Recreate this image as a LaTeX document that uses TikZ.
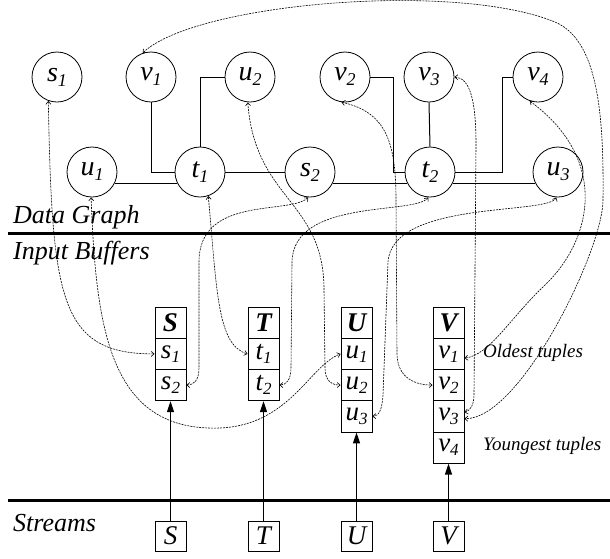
\documentclass[tikz,border=0pt]{standalone}
\usepackage{fontspec}
\setmainfont{Liberation Serif}
\usetikzlibrary{arrows.meta}
% subscripted labels for graph vertices and buffer cells
\newcommand\gsub[2]{#1\raisebox{-5pt}{\fontsize{18}{18}\selectfont #2}}
\newcommand\bsub[2]{#1\raisebox{-4pt}{\fontsize{17}{17}\selectfont #2}}
\begin{document}
\begin{tikzpicture}[x=1pt,y=-1pt,
  gnode/.style={circle,draw,line width=0.8pt,minimum size=50pt,inner sep=0pt,
    font=\fontsize{28}{30}\selectfont\itshape},
  cell/.style={rectangle,draw,line width=0.8pt,minimum width=31pt,minimum height=31.25pt,
    inner sep=0pt,font=\fontsize{27}{29}\selectfont\itshape},
  head/.style={cell,font=\fontsize{27}{29}\selectfont\bfseries\itshape},
  srcbox/.style={rectangle,draw,line width=0.8pt,minimum width=31pt,minimum height=30pt,
    inner sep=0pt,font=\fontsize{27}{29}\selectfont\itshape},
  edge/.style={line width=1pt},
  link/.style={line width=0.6pt,dash pattern=on 2pt off 1pt,<->,
    >={Straight Barb[length=3pt,width=5pt]}},
  feed/.style={line width=1.3pt,-{Triangle[length=11pt,width=7pt]}},
  rulebar/.style={line width=3pt},
  tag/.style={anchor=base west,inner sep=0pt,font=\fontsize{26}{28}\selectfont\itshape},
  note/.style={anchor=base west,inner sep=0pt,font=\fontsize{19}{21}\selectfont\itshape}]
\useasboundingbox (0,0) rectangle (610,558);

% ---- data graph vertices
\node[gnode] (s1) at (57,77)  {\gsub{s}{1}};
\node[gnode] (v1) at (151,77) {\gsub{v}{1}};
\node[gnode] (u2) at (250,77) {\gsub{u}{2}};
\node[gnode] (v2) at (345,77) {\gsub{v}{2}};
\node[gnode] (v3) at (429,77) {\gsub{v}{3}};
\node[gnode] (v4) at (538,77) {\gsub{v}{4}};
\node[gnode] (u1) at (92,172)  {\gsub{u}{1}};
\node[gnode] (t1) at (200,172) {\gsub{t}{1}};
\node[gnode] (s2) at (310,172) {\gsub{s}{2}};
\node[gnode] (t2) at (430,172) {\gsub{t}{2}};
\node[gnode] (u3) at (558,172) {\gsub{u}{3}};

% ---- data graph edges
\draw[edge] (u1.-26) -- (t1.206);
\draw[edge] (v1.south) |- (t1.west);
\draw[edge] (t1.north) |- (u2.west);
\draw[edge] (t1.east) -- (s2.west);
\draw[edge] (s2.-26) -- (t2.206);
\draw[edge] (t2.-26) -- (u3.206);
\draw[edge] (v2.east) -- ++(23,0) |- (t2.west);
\draw[edge] (v3.south) -- (t2.north);
\draw[edge] (t2.east) -- ++(47,0) |- (v4.west);

% ---- section rules and titles
\draw[rulebar] (8,233) -- (610,233);
\draw[rulebar] (8,500) -- (610,500);
\node[tag] (lgraph) at (13,223) {Data Graph};
\node[tag] (lbuf) at (13,259) {Input Buffers};
\node[tag] (lstream) at (13,531) {Streams};

% ---- input buffers
\node[head] (S0) at (170.5,322.6) {S};
\node[cell] (s1c) at (170.5,353.9) {\bsub{s}{1}};
\node[cell] (s2c) at (170.5,385.1) {\bsub{s}{2}};
\node[head] (T0) at (263.5,322.6) {T};
\node[cell] (t1c) at (263.5,353.9) {\bsub{t}{1}};
\node[cell] (t2c) at (263.5,385.1) {\bsub{t}{2}};
\node[head] (U0) at (356.5,322.6) {U};
\node[cell] (u1c) at (356.5,353.9) {\bsub{u}{1}};
\node[cell] (u2c) at (356.5,385.1) {\bsub{u}{2}};
\node[cell] (u3c) at (356.5,416.4) {\bsub{u}{3}};
\node[head] (V0) at (448.5,322.6) {V};
\node[cell] (v1c) at (448.5,353.9) {\bsub{v}{1}};
\node[cell] (v2c) at (448.5,385.1) {\bsub{v}{2}};
\node[cell] (v3c) at (448.5,416.4) {\bsub{v}{3}};
\node[cell] (v4c) at (448.5,447.6) {\bsub{v}{4}};
\node[note] (lold) at (483,357) {Oldest tuples};
\node[note] (lyoung) at (483,450) {Youngest tuples};

% ---- streams feeding the buffers
\node[srcbox] (Sst) at (170.5,536) {S};
\node[srcbox] (Tst) at (263.5,536) {T};
\node[srcbox] (Ust) at (356.5,536) {U};
\node[srcbox] (Vst) at (448.5,536) {V};
\draw[feed] (Sst.north) -- (s2c.south);
\draw[feed] (Tst.north) -- (t2c.south);
\draw[feed] (Ust.north) -- (u3c.south);
\draw[feed] (Vst.north) -- (v4c.south);

% ---- links between buffered tuples and graph vertices
\draw[link] (s1.250) .. controls (52,300) and (60,354) .. (s1c.west);
\draw[link] (u1.268) .. controls (96,330) and (110,432) .. (220,428)
            .. controls (290,425) and (310,365) .. (u1c.west);
\draw[link] (t1.-71) .. controls (217,290) and (217,345) .. (t1c.west);
\draw[link] (s2.266) .. controls (290,215) and (199,195) .. (199,262)
            -- (199,368) .. controls (199,380) and (194,385) .. (s2c.east);
\draw[link] (t2.266) .. controls (415,215) and (293,198) .. (292,262)
            -- (291,368) .. controls (291,380) and (286,385) .. (t2c.east);
\draw[link] (u2.265) .. controls (255,200) and (324,200) .. (324,290)
            -- (325,368) .. controls (325,380) and (331,385) .. (u2c.west);
\draw[link] (u3.266) .. controls (548,215) and (392,200) .. (388,262)
            -- (383,395) .. controls (382,410) and (379,416) .. (u3c.east);
\draw[link] (v2.262) .. controls (385,112) and (396,140) .. (396,200)
            -- (397,355) .. controls (398,378) and (415,385) .. (v2c.west);
\draw[link] (v3.east) .. controls (470,78) and (476,100) .. (476,145)
            -- (474,395) .. controls (474,405) and (470,411) .. (v3c.15);
\draw[link] (v4.251) .. controls (610,160) and (592,240) .. (545,285)
            .. controls (510,318) and (490,355) .. (v1c.-15);
\draw[link] (v1.109) .. controls (195,3) and (455,-19) .. (555,22)
            .. controls (597,40) and (604,110) .. (603,200)
            .. controls (603,250) and (520,420) .. (v3c.-8);
\end{tikzpicture}
\end{document}
